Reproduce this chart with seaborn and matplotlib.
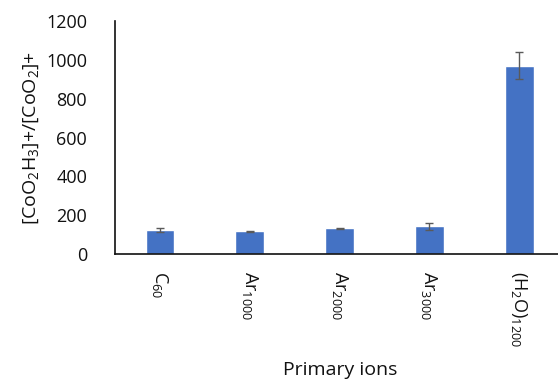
import matplotlib
matplotlib.use("Agg")
import matplotlib.pyplot as plt
import seaborn as sns
import pandas as pd

categories = ["C$_{60}$", "Ar$_{1000}$", "Ar$_{2000}$", "Ar$_{3000}$", "(H$_2$O)$_{1200}$"]
values = [125, 118, 132, 144, 970]
errors = [10, 3, 3, 18, 68]

sns.set_theme(style="white")
plt.rcParams['font.family'] = ['Open Sans', 'DejaVu Sans']
plt.rcParams['mathtext.default'] = 'regular'

df = pd.DataFrame({"ion": categories, "ratio": values})

fig = plt.figure(figsize=(5.58, 3.81), dpi=100)
ax = fig.add_axes([0.206, 0.333, 0.794, 0.612])
sns.barplot(data=df, x="ion", y="ratio", color="#4472C4", saturation=1,
            width=0.32, errorbar=None, ax=ax)
ax.errorbar(range(len(categories)), values, yerr=errors, fmt="none",
            ecolor="#5a5a5a", elinewidth=1, capsize=3, capthick=1)

ax.set_ylim(0, 1200)
ax.set_xlim(-0.5, 4.43)
ax.set_yticks([0, 200, 400, 600, 800, 1000, 1200])
ax.tick_params(axis='y', labelsize=13, length=0, pad=20, colors='#111111')
ax.tick_params(axis='x', labelsize=13, length=0, pad=12, colors='#111111')
for lbl in ax.get_xticklabels():
    lbl.set_rotation(-90)
    lbl.set_va('top')
    lbl.set_ha('center')

for s in ['top', 'right']:
    ax.spines[s].set_visible(False)
ax.spines['left'].set_color('#111111')
ax.spines['bottom'].set_color('#111111')
ax.spines['left'].set_linewidth(1.2)
ax.spines['bottom'].set_linewidth(1.2)

ax.set_ylabel("[CoO$_2$H$_3$]+/[CoO$_2$]+", fontsize=14, color='#111111', labelpad=4)
ax.set_xlabel("")
fig.text(0.61, 0.005, "Primary ions", fontsize=14, color='#111111', ha='center', va='bottom')

fig.savefig("out.png", dpi=100)
